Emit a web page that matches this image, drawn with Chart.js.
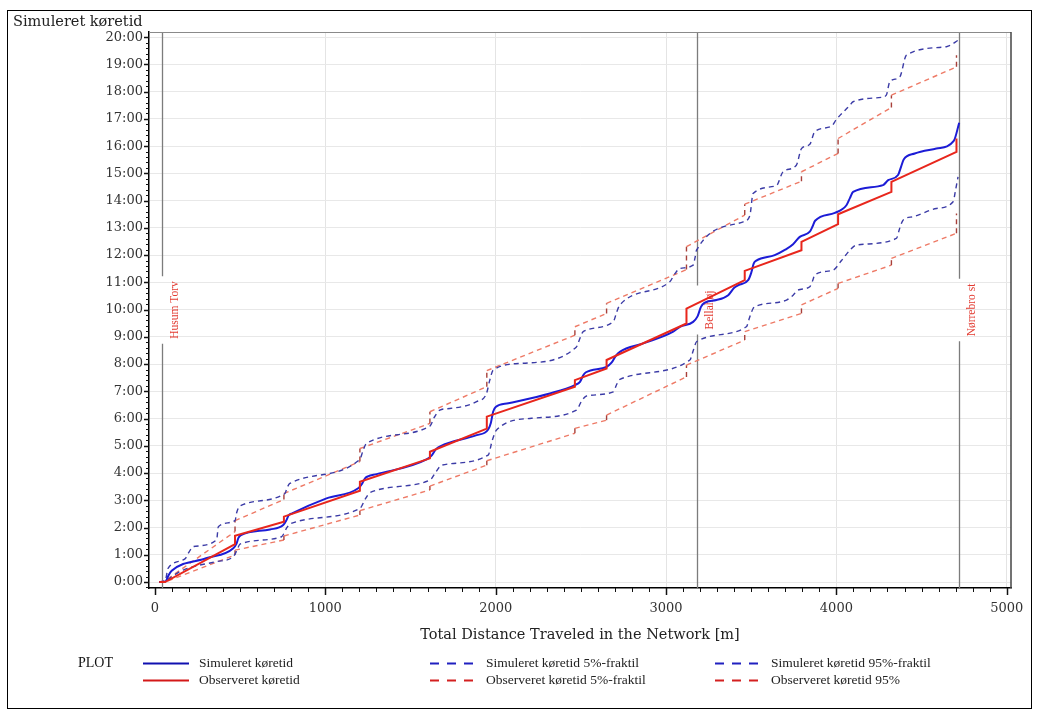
<!DOCTYPE html>
<html>
<head>
<meta charset="utf-8">
<script src="https://cdn.jsdelivr.net/npm/chart.js@4/dist/chart.umd.min.js"></script>
<style>
  html, body { margin: 0; padding: 0; background: #fff; }
  #wrap { position: relative; width: 1041px; height: 715px; }
</style>
</head>
<body>
<div id="wrap"><canvas id="c" width="1041" height="715"></canvas></div>
<script>
// Distance along the route [m] and driving time [minutes]

// Simulated driving time (median)
const simX = [25, 62, 80, 98, 300, 460, 478, 490, 505, 675, 753, 770, 785, 805, 1007, 1193, 1215, 1232, 1250, 1301,
  1594, 1625, 1650, 1680, 1888, 1956, 1972, 1985, 2000, 2074, 2318, 2465, 2495, 2515, 2530, 2651, 2680, 2705, 2729,
  2866, 3042, 3081, 3159, 3185, 3205, 3225, 3296, 3365, 3400, 3425, 3482, 3500, 3515, 3530, 3638, 3700, 3746, 3785,
  3844, 3860, 3875, 3991, 4059, 4080, 4098, 4274, 4304, 4362, 4380, 4395, 4460, 4587, 4689, 4721];
const simY = [0, 0.02, 0.25, 0.41, 0.87, 1.24, 1.40, 1.62, 1.72, 1.93, 2.09, 2.25, 2.45, 2.52, 3.07, 3.44, 3.60, 3.80, 3.88, 3.96,
  4.50, 4.65, 4.88, 5.00, 5.39, 5.60, 5.85, 6.25, 6.42, 6.56, 6.92, 7.23, 7.35, 7.60, 7.70, 7.90, 8.05, 8.30, 8.45,
  8.76, 9.19, 9.37, 9.55, 9.75, 10.10, 10.25, 10.35, 10.53, 10.80, 10.90, 11.08, 11.35, 11.70, 11.80, 12.00, 12.20, 12.40, 12.67,
  12.86, 13.05, 13.26, 13.55, 13.83, 14.10, 14.32, 14.57, 14.75, 14.94, 15.25, 15.51, 15.73, 15.91, 16.19, 16.86];

// Observed driving time (median)
const obsX = [25, 59, 470, 470, 757, 757, 1203, 1203, 1614, 1614, 1948, 1948, 2465, 2465, 2651, 2651,
  3120, 3120, 3462, 3462, 3795, 3795, 4010, 4010, 4323, 4323, 4705, 4705];
const obsY = [0, 0, 1.39, 1.70, 2.21, 2.40, 3.35, 3.68, 4.54, 4.78, 5.63, 6.07, 7.17, 7.41, 7.84, 8.15,
  9.49, 10.04, 11.08, 11.42, 12.18, 12.49, 13.14, 13.50, 14.32, 14.69, 15.79, 16.28];

// Simulated 5% quantile
const sim5X = [25, 60, 100, 166, 362, 460, 480, 499, 743, 770, 792, 1203, 1235, 1262, 1614, 1650, 1683, 1956, 1980, 2005,
  2210, 2474, 2505, 2533, 2690, 2710, 2729, 3140, 3160, 3179, 3472, 3490, 3511, 3531, 3707, 3746, 3775, 3844, 3860, 3873,
  3981, 4030, 4079, 4118, 4352, 4370, 4391, 4450, 4587, 4685, 4700, 4714];
const sim5Y = [0, 0.02, 0.20, 0.44, 0.75, 0.93, 1.15, 1.39, 1.66, 1.95, 2.13, 2.70, 3.05, 3.28, 3.74, 4.05, 4.29, 4.66, 5.20, 5.58,
  6.01, 6.31, 6.65, 6.83, 6.98, 7.25, 7.44, 8.15, 8.50, 8.82, 9.37, 9.70, 10.04, 10.13, 10.35, 10.53, 10.72, 10.84, 11.05, 11.27,
  11.45, 11.80, 12.18, 12.37, 12.61, 12.95, 13.28, 13.41, 13.71, 13.96, 14.40, 14.87];

// Observed 5% quantile
const obs5X = [25, 59, 470, 470, 757, 757, 1203, 1203, 1614, 1614, 1948, 1948, 2465, 2465, 2651, 2651,
  3120, 3120, 3462, 3462, 3795, 3795, 4010, 4010, 4323, 4323, 4705, 4705];
const obs5Y = [0, 0, 0.99, 1.17, 1.54, 1.69, 2.46, 2.62, 3.38, 3.52, 4.29, 4.45, 5.46, 5.64, 5.94, 6.13,
  7.53, 7.96, 8.88, 9.19, 9.86, 10.17, 10.78, 10.96, 11.63, 11.88, 12.80, 13.53];

// Simulated 95% quantile
const sim95X = [25, 60, 77, 176, 200, 225, 362, 372, 470, 480, 499, 763, 775, 792, 1203, 1220, 1242, 1614, 1640, 1672,
  1731, 1888, 1946, 1965, 1985, 2161, 2474, 2495, 2514, 2690, 2710, 2729, 3022, 3050, 3081, 3159, 3170, 3179,
  3453, 3492, 3511, 3648, 3687, 3765, 3795, 3844, 3873, 3971, 4000, 4079, 4098, 4264, 4293, 4313, 4372, 4411, 4646, 4721];
const sim95Y = [0, 0.05, 0.50, 0.85, 1.10, 1.30, 1.55, 2.03, 2.25, 2.55, 2.79, 3.25, 3.45, 3.62, 4.50, 4.80, 5.09, 5.72, 6.05, 6.31,
  6.37, 6.62, 6.92, 7.40, 7.78, 8.03, 8.63, 8.95, 9.19, 9.55, 9.90, 10.17, 11.02, 11.30, 11.51, 11.63, 11.90, 12.18,
  13.22, 13.45, 14.26, 14.55, 15.06, 15.30, 15.91, 16.07, 16.53, 16.73, 16.98, 17.50, 17.63, 17.79, 17.87, 18.36, 18.54, 19.34, 19.65, 19.91];

// Observed 95% quantile
const obs95X = [25, 60, 470, 470, 757, 757, 1203, 1203, 1614, 1614, 1948, 1948, 2465, 2465, 2651, 2651,
  3120, 3120, 3462, 3462, 3795, 3795, 4010, 4010, 4323, 4323, 4705, 4705];
const obs95Y = [0, 0.05, 1.85, 2.25, 3.03, 3.25, 4.42, 4.90, 5.82, 6.25, 7.17, 7.76, 9.06, 9.37, 9.86, 10.23,
  11.47, 12.31, 13.47, 13.87, 14.71, 15.06, 15.73, 16.28, 17.42, 17.87, 18.91, 19.34];

// Stations along the route
const stationNames = ['Husum Torv', 'Bellahøj', 'Nørrebro st'];
const stationDist = [41, 3181, 4718];

// Axis ticks
const xMajorStep = 1000, xMinorStep = 100;
const yMajorStep = 1, yMinorStep = 0.2;

const pts = (xs, ys) => xs.map((x, i) => ({ x, y: ys[i] }));

const BLUE = '#1c1cd6', RED = '#e8261c';
const BLUE_DASH = '#3b3ba6', RED_DASH = '#ee7a66', RED_DASH_V = '#a8403a';
const vertical = ctx => ctx.p0.parsed.x === ctx.p1.parsed.x;

const datasets = [
  { label: 'Simuleret køretid', data: pts(simX, simY), borderColor: BLUE, legendColor: '#1010b0',
    borderWidth: 2, cubicInterpolationMode: 'monotone', order: 1 },
  { label: 'Observeret køretid', data: pts(obsX, obsY), borderColor: RED, legendColor: '#d41818',
    borderWidth: 2, tension: 0, order: 0 },
  { label: 'Simuleret køretid 5%-fraktil', data: pts(sim5X, sim5Y), borderColor: BLUE_DASH, legendColor: '#2020c0',
    borderWidth: 1.4, borderDash: [5, 4], cubicInterpolationMode: 'monotone', order: 3 },
  { label: 'Observeret køretid 5%-fraktil', data: pts(obs5X, obs5Y), borderColor: RED_DASH, legendColor: '#d42020',
    borderWidth: 1.4, borderDash: [5, 4], tension: 0, order: 4,
    segment: { borderColor: c => vertical(c) ? RED_DASH_V : RED_DASH } },
  { label: 'Simuleret køretid 95%-fraktil', data: pts(sim95X, sim95Y), borderColor: BLUE_DASH, legendColor: '#2020c0',
    borderWidth: 1.4, borderDash: [5, 4], cubicInterpolationMode: 'monotone', order: 2 },
  { label: 'Observeret køretid 95%', data: pts(obs95X, obs95Y), borderColor: RED_DASH, legendColor: '#d42020',
    borderWidth: 1.4, borderDash: [5, 4], tension: 0, order: 5,
    segment: { borderColor: c => vertical(c) ? RED_DASH_V : RED_DASH } }
];

const isMult = (v, step) => Math.abs(v / step - Math.round(v / step)) < 1e-6;

// Station reference lines with rotated names, drawn beneath the series
const stationPlugin = {
  id: 'stations',
  beforeDatasetsDraw(chart) {
    const { ctx, chartArea: a, scales: { x } } = chart;
    const midY = (a.top + a.bottom) / 2;
    ctx.save();
    ctx.font = '11.5px "Liberation Serif"';
    stationNames.forEach((name, i) => {
      const px = Math.round(x.getPixelForValue(stationDist[i])) + 0.5;
      const w = ctx.measureText(name).width;
      const gap = w / 2 + 5;
      ctx.strokeStyle = '#7c7c7c';
      ctx.lineWidth = 1.3;
      ctx.beginPath();
      ctx.moveTo(px, a.top); ctx.lineTo(px, midY - gap);
      ctx.moveTo(px, midY + gap); ctx.lineTo(px, a.bottom);
      ctx.stroke();
      ctx.save();
      ctx.translate(px + 12, midY);
      ctx.rotate(-Math.PI / 2);
      ctx.fillStyle = '#e23a30';
      ctx.textAlign = 'center';
      ctx.textBaseline = 'middle';
      ctx.fillText(name, 0, 0);
      ctx.restore();
    });
    ctx.restore();
  }
};

// Outward tick marks: long at labelled values, short in between
const tickPlugin = {
  id: 'tickMarks',
  afterDraw(chart) {
    const { ctx, chartArea: a, scales: { x, y } } = chart;
    ctx.save();
    ctx.strokeStyle = '#111';
    x.ticks.forEach(t => {
      const major = isMult(t.value, xMajorStep);
      const px = Math.round(x.getPixelForValue(t.value)) + 0.5;
      ctx.lineWidth = major ? 1.5 : 1;
      ctx.beginPath(); ctx.moveTo(px, a.bottom); ctx.lineTo(px, a.bottom + (major ? 7 : 4)); ctx.stroke();
    });
    y.ticks.forEach(t => {
      const major = isMult(t.value, yMajorStep);
      const py = Math.round(y.getPixelForValue(t.value)) + 0.5;
      ctx.lineWidth = major ? 1.5 : 1;
      ctx.beginPath(); ctx.moveTo(a.left, py); ctx.lineTo(a.left - (major ? 5 : 3), py); ctx.stroke();
    });
    ctx.restore();
  }
};

// Frame, axis heading and legend block
const decorPlugin = {
  id: 'decor',
  afterDraw(chart) {
    const { ctx, chartArea: a } = chart;
    ctx.save();
    // outer frame
    ctx.strokeStyle = '#000';
    ctx.lineWidth = 1;
    ctx.strokeRect(7.5, 10.5, 1024, 698);
    // plot top and right edges
    ctx.strokeStyle = '#8a8a8a';
    ctx.beginPath(); ctx.moveTo(a.left, a.top + 0.5); ctx.lineTo(a.right, a.top + 0.5); ctx.stroke();
    ctx.strokeStyle = '#444';
    ctx.lineWidth = 1.5;
    ctx.beginPath(); ctx.moveTo(a.right, a.top); ctx.lineTo(a.right, a.bottom); ctx.stroke();
    // heading of the time axis
    ctx.fillStyle = '#222';
    ctx.font = '14.5px "DejaVu Serif"';
    ctx.textBaseline = 'middle';
    ctx.fillText('Simuleret køretid', 13, 22);
    // legend
    ctx.font = '14px "Liberation Serif"';
    ctx.fillStyle = '#111';
    ctx.fillText('PLOT', 78, 663);
    const colX = [143, 430, 715], rowY = [663, 680];
    ctx.font = '13.5px "Liberation Serif"';
    chart.data.datasets.forEach((ds, i) => {
      const x = colX[Math.floor(i / 2)], y = rowY[i % 2];
      ctx.strokeStyle = ds.legendColor;
      ctx.lineWidth = 2;
      ctx.setLineDash(ds.borderDash ? [9, 8] : []);
      ctx.beginPath(); ctx.moveTo(x, y + 0.5); ctx.lineTo(x + 46, y + 0.5); ctx.stroke();
      ctx.setLineDash([]);
      ctx.fillStyle = '#222';
      ctx.fillText(ds.label, x + 56, y);
    });
    ctx.restore();
  }
};

const tickFont = { family: 'DejaVu Serif', size: 13 };

new Chart(document.getElementById('c'), {
  type: 'line',
  data: { datasets },
  plugins: [stationPlugin, tickPlugin, decorPlugin],
  options: {
    responsive: false,
    animation: false,
    elements: { point: { radius: 0 } },
    layout: { padding: { left: 0, top: 32, right: 30, bottom: 71 } },
    plugins: { legend: { display: false }, tooltip: { enabled: false } },
    scales: {
      x: {
        type: 'linear',
        min: -35, max: 5025,
        afterFit: s => { s.height = 56; },
        border: { color: '#000', width: 1.5 },
        grid: {
          drawTicks: false,
          color: c => (c.tick && c.tick.value > 0 && isMult(c.tick.value, xMajorStep)) ? '#e4e4e4' : 'rgba(0,0,0,0)'
        },
        ticks: {
          stepSize: xMinorStep,
          includeBounds: false,
          autoSkip: false,
          maxRotation: 0,
          padding: 13,
          color: '#333',
          font: tickFont,
          callback: v => isMult(v, xMajorStep) ? String(Math.round(v)) : ''
        },
        title: {
          display: true,
          text: 'Total Distance Traveled in the Network [m]',
          color: '#222',
          font: { family: 'DejaVu Serif', size: 14.5 },
          padding: 0
        }
      },
      y: {
        type: 'linear',
        min: -0.22, max: 20.19,
        afterFit: s => { s.width = 149; },
        border: { color: '#000', width: 1.5 },
        grid: {
          drawTicks: false,
          color: c => (c.tick && isMult(c.tick.value, yMajorStep)) ? '#e8e8e8' : 'rgba(0,0,0,0)'
        },
        ticks: {
          stepSize: yMinorStep,
          includeBounds: false,
          autoSkip: false,
          padding: 6,
          color: '#333',
          font: tickFont,
          callback: v => isMult(v, yMajorStep) ? Math.round(v) + ':00' : ''
        }
      }
    }
  }
});
</script>
</body>
</html>
